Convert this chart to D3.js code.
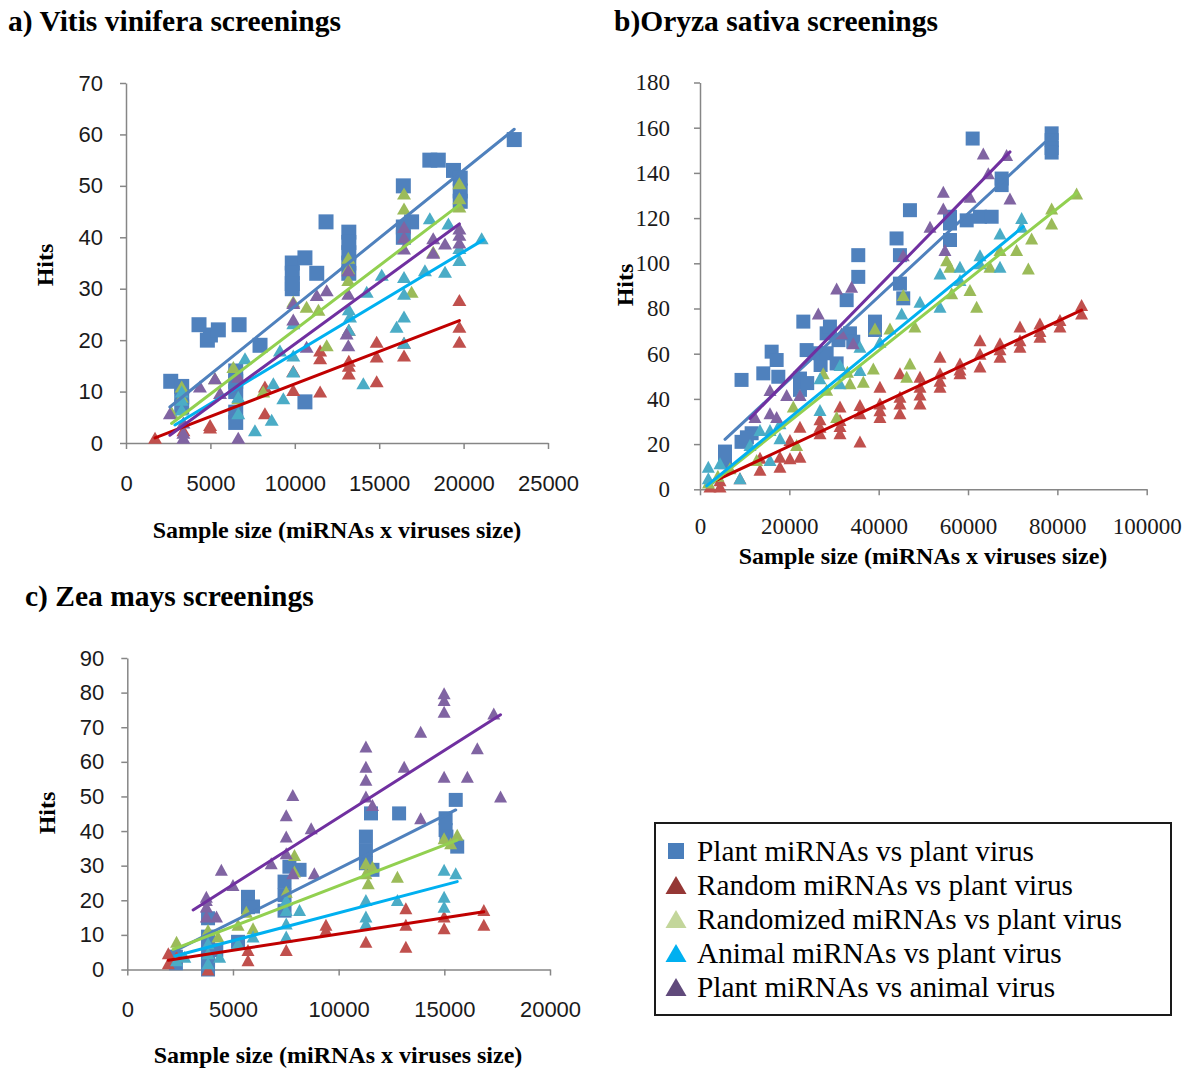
<!DOCTYPE html>
<html><head><meta charset="utf-8">
<script src="https://cdn.jsdelivr.net/npm/d3@7"></script>
<style>body{margin:0;background:#fff}svg{display:block}</style>
</head><body>
<svg id="c" width="1200" height="1079"></svg>
<script>
// ---------- series ----------
const seriesKeys = ["plantPlant","randomPlant","randomizedPlant","animalPlant","plantAnimal"];
const seriesNames = ["Plant miRNAs vs plant virus","Random miRNAs vs plant virus","Randomized miRNAs vs plant virus","Animal miRNAs vs plant virus","Plant miRNAs vs animal virus"];
const markerColors = ["#4F81BD","#C0504D","#9BBB59","#4BACC6","#8064A2"];
const trendColors = ["#4F81BD","#C00000","#92D050","#00B0F0","#7030A0"];
const legendColors = ["#4A7EBB","#953735","#C3D69B","#00B0F0","#604A7B"];
const markerShapes = ["square","triangle","triangle","triangle","triangle"];

// ---------- a) Vitis vinifera ----------
const vitisPlantPlant = [[2650,12],[3300,11],[3300,9],[3300,7],[4325,23],[4820,20],[5000,21],[5470,22],[6700,23],[6500,14],[6500,12],[6500,10],[6500,6],[6500,4],[7940,19],[9850,35],[9850,33],[9850,31],[9850,30],[10600,36],[11300,33],[11850,43],[10600,8],[13200,41],[13200,39],[13200,37],[13200,35],[13200,33],[16430,50],[16920,43],[16430,42],[16430,40],[18000,55],[18500,55],[19400,53],[19800,51.5],[19800,49],[19800,47],[23000,59]];
const vitisRandomPlant = [[1720,1],[3400,2.5],[4980,3.5],[4980,3],[8230,5.8],[8230,11],[9910,10.3],[9910,14],[11500,10],[11500,16.5],[11500,18],[13200,13.5],[13200,15],[13200,22],[13200,16],[14850,19.7],[14850,16.8],[14850,12],[16470,17],[16470,19.5],[19750,27.8],[19750,22.6],[19750,19.7]];
const vitisRandomizedPlant = [[2700,6],[3300,11],[3300,9],[5270,12.6],[6360,14.8],[6650,8.7],[8130,10],[9910,27.5],[10700,26.5],[11400,25.9],[11890,19],[13170,36],[13170,31.7],[13170,34],[16470,48.5],[16470,45.6],[16920,29.4],[18200,37.2],[19750,50.5],[19750,47.6],[19750,46]];
const vitisAnimalPlant = [[3300,8.4],[3300,6.5],[3300,10],[6650,5.8],[6650,9],[7050,16.5],[7640,2.5],[8630,4.5],[8730,11.6],[9320,8.7],[9910,23.3],[9910,13.9],[9910,17],[9120,18],[13270,24.6],[13200,26],[13200,22],[14060,11.6],[15150,32.7],[14260,29.4],[16030,22.6],[16470,24.6],[16470,29],[16470,32.3],[16470,19.5],[17710,33.6],[18000,43.7],[18900,33.3],[19100,42.7],[19750,35.6],[19750,37.9],[21070,39.8]];
const vitisPlantAnimal = [[2600,5.8],[3400,1],[3400,2],[3400,4],[4380,11],[5270,12.6],[5570,9.7],[6650,1],[6650,12.9],[9910,27.2],[9910,24],[10700,18.7],[11300,28.8],[11890,29.7],[13070,21.3],[13170,33.6],[13170,29],[13170,19],[16470,42],[16470,40],[16470,37.8],[18200,39.8],[18200,37],[18900,38.8],[19750,41.7],[19750,40.5],[19750,39]];
const vitisTrends = [[2600,7,23000,61],[1720,1,19750,23.8],[2700,3.8,19750,46.3],[2900,3.5,21170,39.5],[2600,1.5,19750,42.6]];
const vitisXTicks = [0,5000,10000,15000,20000,25000];
const vitisYTicks = [0,10,20,30,40,50,60,70];

// ---------- b) Oryza sativa ----------
const oryzaPlantPlant = [[5600,12],[5600,16.7],[9300,48.4],[9300,21],[11560,24.8],[10500,23],[14170,51.3],[16040,60.9],[17160,57.2],[17530,49.8],[22380,49],[23130,74.2],[23870,61.6],[22380,44],[24000,47],[26860,60.2],[27000,55],[28350,69],[28350,60.2],[29090,72],[30590,55.7],[31000,66],[32830,83.7],[33570,69],[34310,65.3],[35430,94],[35430,103.6],[39170,74.2],[39170,70.5],[44000,111],[44760,103.6],[44760,91],[45500,84.5],[47000,123.5],[55960,120.6],[55960,117.6],[55960,110.3],[59700,119],[62680,120.6],[65290,120.6],[67530,137.5],[67530,134.6],[61040,155.2],[78720,157.5],[78720,154.5],[78720,151],[78720,149]];
const oryzaRandomPlant = [[2240,1.2],[4480,1.2],[4480,4],[8950,4.9],[13430,8.6],[13430,14],[17900,10],[17900,14.4],[20140,13.7],[20140,21.8],[22380,14.4],[22380,27.7],[26860,24.8],[26860,27.7],[26860,31],[31340,24.8],[31340,36.6],[31340,30.7],[31340,28],[35810,21.1],[35810,33.6],[35810,37.3],[40280,32],[40280,45.4],[40280,38],[40280,35],[44760,33.6],[44760,51.3],[44760,41],[44760,38],[49250,38],[49250,49.8],[49250,45.4],[49250,42],[53730,45.4],[53730,58.7],[53730,51.3],[53730,48],[58200,51.3],[58200,55.7],[58200,53],[62680,54.3],[62680,66],[62680,60],[67160,58.7],[67160,64.6],[67160,62],[71630,63.1],[71630,72],[71630,66],[76100,67.5],[76100,73.4],[76100,70],[80580,74.9],[80580,72],[85430,77.8],[85430,81.5]];
const oryzaRandomizedPlant = [[1900,3],[4000,6],[6700,9.3],[12680,13],[21630,19.6],[20890,36.6],[27600,51.3],[28350,44],[30590,32],[33000,52],[33570,46.9],[36560,47.6],[38800,53.5],[39170,71.2],[42530,71.2],[45500,86],[47000,55.7],[46270,49.8],[48100,72],[55220,101.4],[55960,98.5],[56340,86.7],[60440,88.2],[61930,80.8],[64910,98.5],[67160,105.9],[70880,105.9],[73500,97.7],[74240,111],[78720,124.3],[78720,117.6],[84310,130.9]];
const oryzaAnimalPlant = [[1860,10],[1860,4.9],[4480,11.5],[8950,4.9],[11190,19.6],[13430,26.2],[15670,26.2],[15670,13],[17900,29.2],[17900,22.6],[22380,41.7],[26860,49.1],[26860,35.1],[31340,55],[31340,46.9],[35810,63.1],[35810,52.8],[40280,65.3],[45150,77.8],[49250,83],[53730,80.8],[53730,95.5],[58200,98.5],[58200,92.6],[62680,103.6],[62680,100],[67160,113.2],[67160,98.5],[72000,120],[72000,116.2]];
const oryzaPlantAnimal = [[12310,32],[15670,43.9],[15670,33.6],[17160,32],[19400,41.7],[22380,41.7],[26480,77.8],[30590,88.9],[31700,69],[33940,89.6],[34310,64.6],[45500,103.6],[51490,116.2],[54470,131.7],[54470,124.3],[54840,105.9],[60440,129.4],[63420,148.6],[64540,139.8],[68640,147.9],[69390,128.7]];
const oryzaTrends = [[5600,22.1,79100,157],[2990,3.4,85430,79.3],[1900,1.5,84310,131],[1500,1.5,72370,116.2],[11190,31.4,69390,149.3]];
const oryzaXTicks = [0,20000,40000,60000,80000,100000];
const oryzaYTicks = [0,20,40,60,80,100,120,140,160,180];

// ---------- c) Zea mays ----------
const zeaPlantPlant = [[2300,1.8],[2300,3.7],[3820,0],[3820,2.7],[3820,6.1],[3820,9.5],[3820,14.8],[4210,5.6],[5240,8],[5710,21],[5950,18.2],[5710,18],[7440,25.4],[7440,21.5],[7670,29.7],[7440,17],[8150,28.8],[11290,38.4],[11290,34.5],[11290,30.7],[11530,45.1],[11600,28.8],[12860,45.1],[15060,43.7],[15060,40.3],[15100,38.4],[15540,49],[15610,35.5]];
const zeaRandomPlant = [[1940,4.7],[1940,1.8],[2330,3.7],[3820,0],[5710,2.7],[5710,5.6],[7520,5.6],[9400,12.9],[9400,11.4],[11290,8],[13180,6.6],[13180,12.9],[13180,17.7],[14990,11.9],[14990,15.3],[16870,12.9],[16870,17.2]];
const zeaRandomizedPlant = [[2330,8],[3820,11.4],[4290,9.5],[5240,12.9],[5630,16.7],[5950,11.9],[7520,22.5],[7910,33.1],[7910,28.3],[11290,30.7],[11290,27.8],[11400,24.9],[11600,29.7],[12780,26.8],[14990,37.9],[15610,38.9],[15300,36.5]];
const zeaAnimalPlant = [[2330,2.7],[2720,3.7],[3820,7.6],[3820,1.8],[3820,4.7],[4370,3.7],[5240,7.6],[5950,9.5],[7520,9.5],[7520,13.3],[7520,17.2],[7520,20.1],[8150,17.2],[11290,20.1],[11290,15.3],[11290,13.3],[12780,20.1],[14990,28.8],[14990,21],[14990,18.1],[15540,27.8]];
const zeaPlantAnimal = [[3740,20.1],[3740,21],[3740,18.2],[3740,15.3],[4220,15.3],[5000,24.4],[4450,28.8],[6810,30.7],[7520,33.6],[7520,38.4],[7520,44.6],[7830,50.4],[7830,27.8],[8700,40.8],[8850,27.8],[11290,64.4],[11290,58.6],[11290,54.8],[11290,50],[11600,47.5],[13100,58.6],[13880,68.7],[13880,43.7],[14990,79.8],[14990,77.9],[14990,74.5],[14990,55.7],[16090,55.7],[16560,63.9],[17340,74],[17660,50]];
const zeaTrends = [[2250,5.4,15540,46.1],[1940,2.7,16870,16.7],[2170,5.8,15610,37.4],[2250,3.9,15610,25.4],[3115,17.2,17660,73.6]];
const zeaXTicks = [0,5000,10000,15000,20000];
const zeaYTicks = [0,10,20,30,40,50,60,70,80,90];

// ---------- layout ----------
const panels = [
  {title:"a) Vitis vinifera screenings", tx:8, ty:31,
   series:[vitisPlantPlant,vitisRandomPlant,vitisRandomizedPlant,vitisAnimalPlant,vitisPlantAnimal], trends:vitisTrends,
   xTicks:vitisXTicks, yTicks:vitisYTicks, x0:126, x1:548, y0:443, y1:83, tickFont:"'Liberation Sans',Arial,sans-serif", tickSize:22,
   xPad:26, yPad:17, sq:15, tw:14, th:12, hitsX:45, hitsY:265, xtX:337, xtY:538},
  {title:"b)Oryza sativa screenings", tx:614, ty:31,
   series:[oryzaPlantPlant,oryzaRandomPlant,oryzaRandomizedPlant,oryzaAnimalPlant,oryzaPlantAnimal], trends:oryzaTrends,
   xTicks:oryzaXTicks, yTicks:oryzaYTicks, x0:700, x1:1146.7, y0:489.3, y1:82.5, tickFont:"'Liberation Serif','Times New Roman',serif", tickSize:23,
   xPad:22, yPad:24, sq:14, tw:13, th:12, hitsX:625, hitsY:285, xtX:923, xtY:564},
  {title:"c) Zea mays screenings", tx:25, ty:606,
   series:[zeaPlantPlant,zeaRandomPlant,zeaRandomizedPlant,zeaAnimalPlant,zeaPlantAnimal], trends:zeaTrends,
   xTicks:zeaXTicks, yTicks:zeaYTicks, x0:127.3, x1:550, y0:969.5, y1:658, tickFont:"'Liberation Sans',Arial,sans-serif", tickSize:22,
   xPad:26, yPad:17, sq:14, tw:13, th:12, hitsX:47, hitsY:813, xtX:338, xtY:1063}
];

const svg = d3.select("#c");
svg.append("rect").attr("width",1200).attr("height",1079).attr("fill","#fff");
const serif = "'Liberation Serif','Times New Roman',serif";
const triPath = (w,h) => `M0,${-h/2}L${w/2},${h/2}L${-w/2},${h/2}Z`;

panels.forEach(p => {
  const x = d3.scaleLinear().domain([p.xTicks[0], p.xTicks[p.xTicks.length-1]]).range([p.x0,p.x1]);
  const y = d3.scaleLinear().domain([p.yTicks[0], p.yTicks[p.yTicks.length-1]]).range([p.y0,p.y1]);
  const g = svg.append("g");

  g.append("text").attr("x",p.tx).attr("y",p.ty).attr("font-family",serif).attr("font-weight","bold")
    .attr("font-size",29.5).text(p.title);

  const ya = g.append("g").attr("transform",`translate(${p.x0},0)`)
    .call(d3.axisLeft(y).tickValues(p.yTicks).tickSize(6).tickSizeOuter(0).tickPadding(p.yPad).tickFormat(d3.format("d")));
  const xa = g.append("g").attr("transform",`translate(0,${p.y0})`)
    .call(d3.axisBottom(x).tickValues(p.xTicks).tickSize(6).tickSizeOuter(0).tickPadding(p.xPad).tickFormat(d3.format("d")));
  [ya,xa].forEach(a => {
    a.select(".domain").attr("stroke","#868686").attr("stroke-width",1.5);
    a.selectAll(".tick line").attr("stroke","#868686").attr("stroke-width",1.5);
    a.selectAll(".tick text").attr("font-family",p.tickFont).attr("font-size",p.tickSize).attr("fill","#1a1a1a");
  });

  g.append("text").attr("transform",`translate(${p.hitsX},${p.hitsY}) rotate(-90)`).attr("text-anchor","middle")
    .attr("dy","0.35em").attr("font-family",serif).attr("font-weight","bold").attr("font-size",24).text("Hits");
  g.append("text").attr("x",p.xtX).attr("y",p.xtY).attr("text-anchor","middle")
    .attr("font-family",serif).attr("font-weight","bold").attr("font-size",24).text("Sample size (miRNAs x viruses size)");

  p.series.forEach((data,i) => {
    const shape = markerShapes[i];
    g.append("g").selectAll("path").data(data).join("path")
      .attr("transform", d => `translate(${x(d[0])},${y(d[1])})`)
      .attr("d", shape==="square" ? `M${-p.sq/2},${-p.sq/2}h${p.sq}v${p.sq}h${-p.sq}Z` : triPath(p.tw,p.th))
      .attr("fill", markerColors[i]);
  });
  g.append("g").selectAll("line").data(p.trends).join("line")
    .attr("x1",d=>x(d[0])).attr("y1",d=>y(d[1])).attr("x2",d=>x(d[2])).attr("y2",d=>y(d[3]))
    .attr("stroke",(d,i)=>trendColors[i]).attr("stroke-width",3).attr("stroke-linecap","round");
});

// ---------- legend ----------
const lg = svg.append("g");
lg.append("rect").attr("x",655).attr("y",823).attr("width",516).attr("height",192)
  .attr("fill","#fff").attr("stroke","#1a1a1a").attr("stroke-width",2);
const rowY = d3.scalePoint().domain(seriesNames).range([851,987]);
seriesNames.forEach((name,i) => {
  const cy = rowY(name);
  lg.append("path").attr("transform",`translate(676,${cy})`)
    .attr("d", markerShapes[i]==="square" ? "M-8,-8h16v16h-16Z" : triPath(21,18))
    .attr("fill", legendColors[i]);
  lg.append("text").attr("x",697).attr("y",cy).attr("dy","0.33em").attr("font-family",serif)
    .attr("font-size",29.3).attr("fill","#000").text(name);
});
</script>
</body></html>
